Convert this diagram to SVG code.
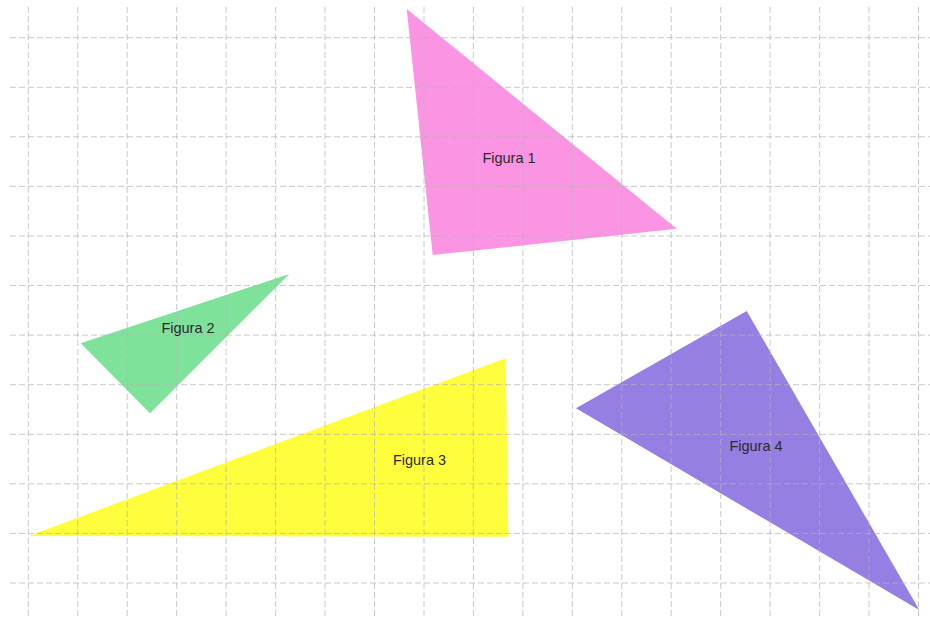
<svg xmlns="http://www.w3.org/2000/svg" width="930" height="619" viewBox="0 0 930 619">
<style>
.grid line{stroke:#b4b4b4;stroke-width:1;stroke-dasharray:6,3;opacity:0.7}
.lbl{font-family:"Liberation Sans",Arial,sans-serif;font-size:14.5px;fill:#2a2a2a;text-anchor:middle}
</style>
<rect width="930" height="619" fill="#ffffff"/>
<g id="fig1"><polygon points="406.7,9 432.7,255 676.7,228.7" fill="#fb95e3"/></g>
<g id="fig2"><polygon points="80.7,343.3 289.3,274 150,413.3" fill="#7fe29b"/></g>
<g id="fig3"><polygon points="28.7,536 505.7,358.3 508.4,536.7" fill="#fefe3c"/></g>
<g id="fig4"><polygon points="746.7,311 576,408.3 919.3,610" fill="#957fe3"/></g>
<g class="grid">
<line x1="28.3" y1="7" x2="28.3" y2="619"/>
<line x1="77.8" y1="7" x2="77.8" y2="619"/>
<line x1="127.2" y1="7" x2="127.2" y2="619"/>
<line x1="176.7" y1="7" x2="176.7" y2="619"/>
<line x1="226.1" y1="7" x2="226.1" y2="619"/>
<line x1="275.6" y1="7" x2="275.6" y2="619"/>
<line x1="325" y1="7" x2="325" y2="619"/>
<line x1="374.5" y1="7" x2="374.5" y2="619"/>
<line x1="424" y1="7" x2="424" y2="619"/>
<line x1="473.4" y1="7" x2="473.4" y2="619"/>
<line x1="522.9" y1="7" x2="522.9" y2="619"/>
<line x1="572.3" y1="7" x2="572.3" y2="619"/>
<line x1="621.8" y1="7" x2="621.8" y2="619"/>
<line x1="671.2" y1="7" x2="671.2" y2="619"/>
<line x1="720.7" y1="7" x2="720.7" y2="619"/>
<line x1="770.1" y1="7" x2="770.1" y2="619"/>
<line x1="819.6" y1="7" x2="819.6" y2="619"/>
<line x1="869" y1="7" x2="869" y2="619"/>
<line x1="918.5" y1="7" x2="918.5" y2="619"/>
<line x1="10" y1="37.7" x2="930" y2="37.7"/>
<line x1="10" y1="87.3" x2="930" y2="87.3"/>
<line x1="10" y1="136.8" x2="930" y2="136.8"/>
<line x1="10" y1="186.4" x2="930" y2="186.4"/>
<line x1="10" y1="236" x2="930" y2="236"/>
<line x1="10" y1="285.5" x2="930" y2="285.5"/>
<line x1="10" y1="335.1" x2="930" y2="335.1"/>
<line x1="10" y1="384.7" x2="930" y2="384.7"/>
<line x1="10" y1="434.3" x2="930" y2="434.3"/>
<line x1="10" y1="483.8" x2="930" y2="483.8"/>
<line x1="10" y1="533.4" x2="930" y2="533.4"/>
<line x1="10" y1="583" x2="930" y2="583"/>
</g>
<text class="lbl" x="509" y="163">Figura 1</text>
<text class="lbl" x="188" y="333">Figura 2</text>
<text class="lbl" x="419.5" y="465">Figura 3</text>
<text class="lbl" x="756" y="451">Figura 4</text>
</svg>
